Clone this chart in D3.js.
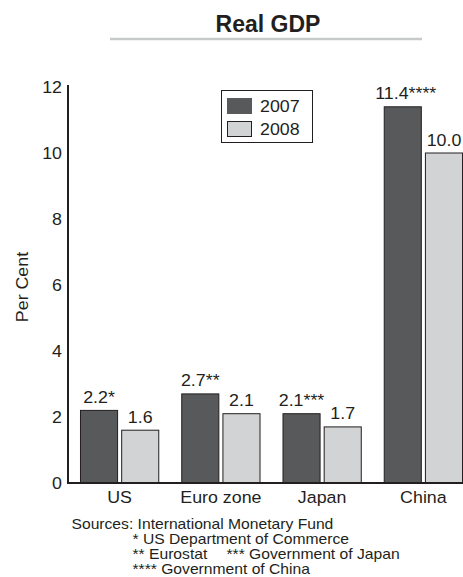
<!DOCTYPE html>
<html><head><meta charset="utf-8">
<script src="https://cdn.jsdelivr.net/npm/d3@7"></script>
<style>
body{margin:0;background:#fff;}
text{font-family:"Liberation Sans",Arial,sans-serif;fill:#231f20;}
</style></head>
<body><svg id="c" width="463" height="577"></svg>
<script>
const categories = ["US","Euro zone","Japan","China"];
const seriesNames = ["2007","2008"];
const values2007 = [2.2,2.7,2.1,11.4];
const values2008 = [1.6,2.1,1.7,10.0];
const notes2007 = ["*","**","***","****"];
const notes2008 = ["","","",""];
const yTicks = [0,2,4,6,8,10,12];
const sourceLines = ["Sources: International Monetary Fund","* US Department of Commerce","** Eurostat","*** Government of Japan","**** Government of China"];

const SX = 1.08;      // horizontal stretch of the reference lettering
const FS = "16.5px";
const svg = d3.select("#c");
const colors = {"2007":"#58595b","2008":"#d1d3d4"};
const y = d3.scaleLinear().domain([0,12]).range([483,87]);
const x0 = d3.scaleBand().domain(categories).range([69,474]).paddingInner(0.217).paddingOuter(0.1085);
const x1 = d3.scaleBand().domain(seriesNames).range([0,x0.bandwidth()]).paddingInner(0.075);

function stext(parent, x, yy, str, size, anchor, rot){
  return parent.append("text")
    .attr("transform", `translate(${x},${yy})` + (rot?` rotate(${rot})`:"") + ` scale(${SX},1)`)
    .attr("text-anchor", anchor||"start").style("font-size", size||FS).text(str);
}

// title
svg.append("text").attr("x",268).attr("y",31.5).attr("text-anchor","middle")
  .style("font-size","23px").style("font-weight","bold").text("Real GDP");
svg.append("line").attr("x1",110).attr("x2",422).attr("y1",39).attr("y2",39)
  .attr("stroke","#c8c9ca").attr("stroke-width",2.5);

// y axis
const yAxis = d3.axisLeft(y).tickValues(yTicks).tickSize(0).tickPadding(0);
const ga = svg.append("g").attr("transform","translate(68,0)").call(yAxis);
ga.select(".domain").remove();
ga.selectAll("text").style("font-size",FS).attr("fill","#231f20")
  .style("font-family","'Liberation Sans',Arial,sans-serif")
  .attr("x",0).attr("dy","0.36em")
  .attr("transform",`translate(-6,0) scale(${SX},1)`);
svg.append("line").attr("x1",68).attr("x2",68).attr("y1",85).attr("y2",484).attr("stroke","#231f20").attr("stroke-width",2);

stext(svg, 27.5, 287, "Per Cent", FS, "middle", -90);

// bars
const data = categories.map((c,i)=>({cat:c, vals:[
  {s:"2007", v:values2007[i], n:notes2007[i]},
  {s:"2008", v:values2008[i], n:notes2008[i]}]}));
const g = svg.append("g").selectAll("g").data(data).join("g")
  .attr("transform",d=>`translate(${x0(d.cat)},0)`);
g.selectAll("rect").data(d=>d.vals).join("rect")
  .attr("x",d=>x1(d.s)+0.5).attr("width",x1.bandwidth()-1)
  .attr("y",d=>y(d.v)).attr("height",d=>y(0)-y(d.v))
  .attr("fill",d=>colors[d.s]).attr("stroke","#231f20").attr("stroke-width",1);
g.selectAll("text.val").data(d=>d.vals).join("text").attr("class","val")
  .attr("transform",d=>`translate(${x1(d.s)+x1.bandwidth()/2 + (d.n.length>3?3:0)},${y(d.v)-7.5}) scale(${SX},1)`)
  .attr("text-anchor","middle").style("font-size",FS)
  .each(function(d){
    const t=d3.select(this);
    t.append("tspan").text(d.v.toFixed(1));
    if(d.n) t.append("tspan").text(d.n);
  });

// x axis
svg.append("line").attr("x1",67).attr("x2",463).attr("y1",483).attr("y2",483).attr("stroke","#231f20").attr("stroke-width",2);
categories.forEach(c=>stext(svg, x0(c)+x0.bandwidth()/2, 503, c, FS, "middle"));

// legend
const lg = svg.append("g");
lg.append("rect").attr("x",221.5).attr("y",90.5).attr("width",91).attr("height",52).attr("fill","#fff").attr("stroke","#231f20").attr("stroke-width",1);
seriesNames.forEach((s,i)=>{
  lg.append("rect").attr("x",227.5).attr("y",98.5+i*23).attr("width",24).attr("height",15)
    .attr("fill",colors[s]).attr("stroke",i?"#231f20":colors[s]).attr("stroke-width",1);
  stext(lg, 260, 112+i*22.5, s, FS, "start");
});

// sources
const SF = "14.5px";
stext(svg, 71.5, 529, sourceLines[0], SF);
stext(svg, 132.5, 544, sourceLines[1], SF);
stext(svg, 132.5, 559, sourceLines[2], SF);
stext(svg, 226.5, 559, sourceLines[3], SF);
stext(svg, 132.5, 574, sourceLines[4], SF);
</script></body></html>
